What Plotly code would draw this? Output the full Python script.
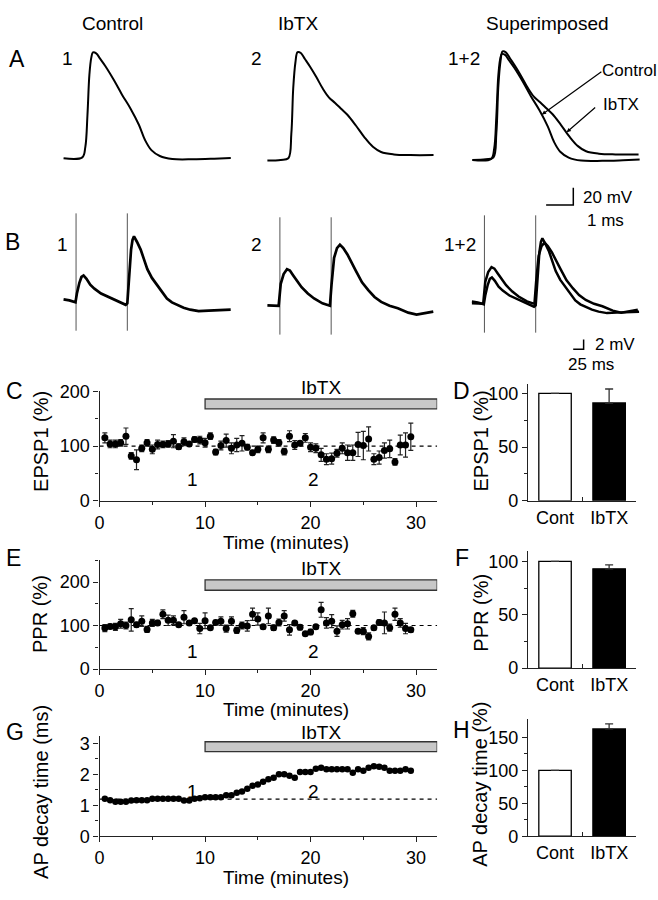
import plotly.graph_objects as go

W, H = 658, 900
FONT = "Liberation Sans, Arial, Helvetica, sans-serif"

# ---------------- data ----------------
# A: presynaptic action potentials (time ms, voltage mV re: baseline)
AP_CTRL_T = [0, 0.69, 0.80, 0.88, 0.95, 1.02, 1.08, 1.20, 1.35, 1.54, 1.85, 2.15, 2.46, 2.77, 3.00, 3.23, 3.54, 4.00, 4.77, 5.54, 6.15]
AP_CTRL_V = [0, 1.1, 13, 51, 97, 117, 123, 122, 115.5, 107, 91, 74, 58, 39, 21, 9.5, 2.7, -0.8, -1.1, -0.4, 0.4]
AP_IBTX_T = [0, 0.49, 0.77, 0.88, 0.95, 1.03, 1.11, 1.23, 1.38, 1.57, 1.80, 2.03, 2.26, 2.49, 2.72, 2.95, 3.26, 3.57, 3.88, 4.18, 4.65, 5.26, 6.11]
AP_IBTX_V = [0, 0.8, 2.7, 31, 84, 114, 126, 125, 118, 109, 97, 84, 73.5, 67, 60, 53, 40.5, 27, 16, 10, 7.2, 6.4, 6.4]

# B: paired EPSPs (time ms, voltage mV re: baseline)
EPSP_CTRL_T = [0, 14, 28.6, 32, 38, 43, 48, 55, 64, 74, 90, 114, 133, 149, 153, 157, 162, 165.5, 169, 176, 185, 193, 201,
               212, 224.5, 236, 248, 260, 272, 288, 304, 324, 348, 371, 401]
EPSP_CTRL_V = [0.4, 0.2, -0.2, 1.6, 3.8, 5.0, 5.3, 4.6, 3.4, 2.6, 1.6, 0.6, -0.2, -0.7, -0.4, 5.6, 10.6, 12.6, 13.3, 12.2, 10.6,
               8.6, 6.6, 4.8, 3.3, 1.8, 0.6, -0.2, -0.7, -1.3, -1.7, -2.0, -1.9, -1.8, -1.7]
EPSP_IBTX_T = [0, 17, 27, 32, 39, 47, 54, 62, 72, 82, 97, 112, 132, 150, 154, 160, 167, 174, 182, 192, 212, 227, 242,
               257, 273, 293, 313, 338, 358, 378, 398]
EPSP_IBTX_V = [0, -0.1, -0.1, 4.4, 6.4, 7.4, 7.1, 6.1, 4.9, 3.7, 2.4, 1.4, 0.4, -0.1, 4.4, 9.7, 11.7, 12.4, 11.7, 10.4, 7.1,
               4.7, 3.1, 1.7, 0.7, -0.1, -0.6, -1.5, -1.9, -1.6, -1.3]
STIM_T = [30, 153]
STIM_V = [-6, 18]

# scale bars
SCALE_A = (1, 20)    # ms, mV
SCALE_B = (25, 2)    # ms, mV

# C, E, G: time courses
TIME_MIN = [0.5, 1.0, 1.5, 2.0, 2.5, 3.0, 3.5, 4.0, 4.5, 5.0, 5.5, 6.0, 6.5, 7.0, 7.5, 8.0, 8.5, 9.0, 9.5, 10.0,
            10.5, 11.0, 11.5, 12.0, 12.5, 13.0, 13.5, 14.0, 14.5, 15.0, 15.5, 16.0, 16.5, 17.0, 17.5, 18.0, 18.5, 19.0,
            19.5, 20.0, 20.5, 21.0, 21.5, 22.0, 22.5, 23.0, 23.5, 24.0, 24.5, 25.0, 25.5, 26.0, 26.5, 27.0, 27.5,
            28.0, 28.5, 29.0, 29.5]
EPSP1 = [115, 104, 104, 106, 118, 82, 75, 96, 106, 94, 103, 103, 104, 109, 99, 108, 104, 112, 111, 106,
         118, 89, 101, 110, 96, 102, 105, 98, 88, 94, 115, 94, 111, 106, 90, 118, 102, 105, 115, 98,
         96, 84, 76, 77, 87, 96, 88, 88, 103, 101, 113, 76, 79, 92, 95, 71, 102, 102, 117]
EPSP1_ERR = [9, 7, 7, 6, 15, 6, 18, 6, 6, 8, 8, 6, 6, 12, 5, 7, 3, 5, 7, 8,
             6, 5, 8, 12, 10, 12, 14, 5, 4, 6, 9, 6, 6, 6, 6, 10, 8, 4, 8, 8,
             8, 12, 10, 10, 7, 10, 14, 14, 22, 26, 22, 10, 12, 14, 16, 6, 18, 22, 25]
PPR = [94, 98, 97, 104, 100, 113, 102, 110, 91, 106, 106, 126, 112, 112, 102, 119, 106, 111, 93, 111,
       95, 107, 110, 93, 110, 89, 100, 99, 126, 115, 97, 122, 95, 107, 122, 90, 106, 96, 81, 85,
       97, 136, 106, 110, 87, 102, 104, 127, 87, 87, 75, 95, 107, 106, 95, 126, 106, 93, 90]
PPR_ERR = [8, 5, 8, 10, 8, 26, 5, 12, 7, 8, 6, 10, 12, 10, 4, 15, 4, 5, 12, 18,
           4, 5, 10, 8, 10, 7, 8, 12, 14, 14, 5, 18, 6, 8, 12, 12, 4, 6, 4, 6,
           4, 17, 12, 15, 12, 10, 12, 8, 4, 8, 8, 5, 6, 25, 8, 14, 10, 12, 5]
AP_DECAY = [1.21, 1.16, 1.11, 1.11, 1.11, 1.15, 1.16, 1.16, 1.16, 1.21, 1.21, 1.21, 1.21, 1.21, 1.21, 1.15, 1.15,
            1.21, 1.23, 1.26, 1.26, 1.26, 1.26, 1.32, 1.32, 1.40, 1.44, 1.53, 1.63, 1.67, 1.76, 1.84, 1.89, 2.00,
            2.00, 1.95, 1.89, 2.07, 2.07, 2.07, 2.18, 2.21, 2.16, 2.16, 2.16, 2.16, 2.16, 2.05, 2.16, 2.11, 2.21,
            2.26, 2.24, 2.21, 2.11, 2.11, 2.11, 2.16, 2.11]
EPSP1_BASE = 100
PPR_BASE = 100
AP_DECAY_BASE = 1.2
IBTX_ON = [10, 32]

# D, F, H: summary bars
BAR_CATS = ["Cont", "IbTX"]
EPSP1_BAR = [100, 91]
EPSP1_BAR_ERR = [0, 13]
PPR_BAR = [100, 93]
PPR_BAR_ERR = [0, 3.7]
APD_BAR = [100, 163]
APD_BAR_ERR = [0, 7.5]

# ---------------- helpers ----------------
def aid(n):
    return "" if n == 1 else str(n)


def px(x):
    return x / W


def py(y):
    return 1 - y / H


layout = dict(width=W, height=H, margin=dict(l=0, r=0, t=0, b=0), paper_bgcolor="white",
              plot_bgcolor="rgba(0,0,0,0)", showlegend=False,
              font=dict(family=FONT, color="black", size=18))
shapes, annotations, traces = [], [], []


def set_axes(n, xdom, ydom, xr, yr, xkw=None, ykw=None):
    xa = dict(domain=[px(xdom[0]), px(xdom[1])], range=xr, anchor="y" + aid(n), fixedrange=True)
    ya = dict(domain=[py(ydom[1]), py(ydom[0])], range=yr, anchor="x" + aid(n), fixedrange=True)
    xa.update(xkw if xkw is not None else dict(visible=False))
    ya.update(ykw if ykw is not None else dict(visible=False))
    layout["xaxis" + aid(n)] = xa
    layout["yaxis" + aid(n)] = ya


def trace_panel(n, xdom, ydom, origin, scale):
    ox, oy = origin
    sx, sy = scale
    xr = [(xdom[0] - ox) / sx, (xdom[1] - ox) / sx]
    yr = [(oy - ydom[1]) / sy, (oy - ydom[0]) / sy]
    set_axes(n, xdom, ydom, xr, yr)


def line(n, x, y, width=2.0, color="black", shape="linear", dash=None):
    traces.append(go.Scatter(x=x, y=y, mode="lines", xaxis="x" + aid(n), yaxis="y" + aid(n),
                             line=dict(color=color, width=width, shape=shape, dash=dash),
                             hoverinfo="skip", cliponaxis=False))


def text(x, y, s, size=19, **kw):
    d = dict(x=px(x), y=py(y), xref="paper", yref="paper", text=s, showarrow=False, borderpad=0,
             font=dict(size=size, family=FONT, color="black"), xanchor="center", yanchor="middle")
    d.update(kw)
    annotations.append(d)


AX = dict(showline=True, linecolor="#222", linewidth=1.3, ticks="outside", ticklen=5, tickwidth=1.3,
          tickcolor="#222", showgrid=False, zeroline=False,
          tickfont=dict(size=18, family=FONT, color="black"))


def minor(vals, ticks="outside", ln=3):
    return dict(tickvals=vals, ticks=ticks, ticklen=ln, tickwidth=1.1, tickcolor="#222", showgrid=False)


# ---------------- A: action potentials ----------------
SA = (27.4, 0.88)  # px per ms, px per mV
trace_panel(1, (50, 240), (30, 230), (59, 151.7), SA)
trace_panel(2, (255, 445), (30, 230), (264.4, 154.0), SA)
trace_panel(3, (460, 652), (30, 230), (471.0, 153.3), SA)
line(1, AP_CTRL_T, AP_CTRL_V, 2.0, shape="spline")
line(2, AP_IBTX_T, AP_IBTX_V, 2.0, shape="spline")
line(3, AP_IBTX_T, AP_IBTX_V, 2.0, shape="spline")
line(3, AP_CTRL_T, AP_CTRL_V, 2.0, shape="spline")
# scale bar A (corner at bottom-right)
ca_t, ca_v = 3.71, -52.3
line(3, [ca_t - SCALE_A[0], ca_t, ca_t], [ca_v, ca_v, ca_v + SCALE_A[1]], 1.5)

# ---------------- B: EPSPs ----------------
SB = (0.42, 5.0)
trace_panel(4, (50, 240), (205, 372), (59, 298), SB)
trace_panel(5, (255, 445), (205, 372), (264.4, 302), SB)
trace_panel(6, (460, 652), (205, 372), (470.5, 300), SB)
for n in (4, 5, 6):
    for st in STIM_T:
        line(n, [st, st], STIM_V, 1.0, color="#555")
line(4, EPSP_CTRL_T, EPSP_CTRL_V, 2.7)
line(5, EPSP_IBTX_T, EPSP_IBTX_V, 2.7)
line(6, EPSP_CTRL_T, EPSP_CTRL_V, 2.5)
line(6, EPSP_IBTX_T, EPSP_IBTX_V, 2.5)
cb_t, cb_v = 268, -9.4
line(6, [cb_t - SCALE_B[0], cb_t, cb_t], [cb_v, cb_v, cb_v + SCALE_B[1]], 1.5)

# ---------------- C / E / G time courses ----------------
XDOM_T = (95.3, 435.5)
xt = dict(AX, tickvals=[0, 10, 20, 30], minor=minor([5, 15, 25]))


def time_panel(n, ydom, yr, yvals, yminor, ys, err, base, bar_y, lab_y, msize=7, lab_shift=0):
    set_axes(n, XDOM_T, ydom, [0, 32], yr, dict(xt),
             dict(AX, tickvals=yvals, minor=minor(yminor)))
    line(n, [0, 32], [base, base], 1.2, dash="4px,4px")
    sc = dict(x=TIME_MIN, y=ys, mode="markers", xaxis="x" + aid(n), yaxis="y" + aid(n),
              marker=dict(color="black", size=msize), hoverinfo="skip", cliponaxis=False)
    if err is not None:
        sc["error_y"] = dict(type="data", array=err, color="#222", thickness=1.2, width=2.5)
    traces.append(go.Scatter(**sc))
    shapes.append(dict(type="rect", xref="x" + aid(n), yref="y" + aid(n), x0=IBTX_ON[0], x1=IBTX_ON[1],
                       y0=bar_y[0], y1=bar_y[1], fillcolor="#c8c8c8", line=dict(color="#333", width=1.3)))
    annotations.append(dict(x=sum(IBTX_ON) / 2, y=bar_y[1], xref="x" + aid(n), yref="y" + aid(n),
                            text="IbTX", showarrow=False, yanchor="bottom", yshift=lab_shift, borderpad=0,
                            font=dict(size=19, family=FONT, color="black")))
    for lx, lab in zip((8.84, 20.3), ("1", "2")):
        annotations.append(dict(x=lx, y=lab_y, xref="x" + aid(n), yref="y" + aid(n), text=lab,
                                showarrow=False, borderpad=0,
                                font=dict(size=19, family=FONT, color="black")))


time_panel(7, (390, 502), [0, 200], [0, 100, 200], [50, 150], EPSP1, EPSP1_ERR, EPSP1_BASE, (168, 186), 39)
time_panel(9, (562.75, 674), [0, 250], [0, 100, 200], [50, 150, 250], PPR, PPR_ERR, PPR_BASE, (181, 205), 41)
time_panel(11, (743, 845), [0, 3.22], [0, 1, 2, 3], [0.5, 1.5, 2.5], AP_DECAY, None, AP_DECAY_BASE,
           (2.73, 3.05), 1.45, msize=6.5, lab_shift=-2)

# ---------------- D / F / H bars ----------------
XDOM_B = (527, 636)


def bar_panel(n, ydom, yr, yvals, yminor, vals, errs):
    set_axes(n, XDOM_B, ydom, [-0.5, 1.5], yr,
             dict(AX, ticks="", tickvals=[0, 1], ticktext=BAR_CATS, minor=minor([0.5], "inside", 4)),
             dict(AX, tickvals=yvals, minor=minor(yminor)))
    traces.append(go.Bar(x=[0, 1], y=vals, width=0.6, xaxis="x" + aid(n), yaxis="y" + aid(n),
                         marker=dict(color=["white", "black"], line=dict(color="black", width=1.3)),
                         error_y=dict(type="data", array=errs, arrayminus=[0, 0], symmetric=False,
                                      color="#333", thickness=1.3, width=4),
                         hoverinfo="skip", cliponaxis=False))


bar_panel(8, (382, 502), [0, 109.1], [0, 50, 100], [25, 75], EPSP1_BAR, EPSP1_BAR_ERR)
bar_panel(10, (553, 673), [0, 110], [0, 50, 100], [25, 75], PPR_BAR, PPR_BAR_ERR)
bar_panel(12, (725, 845), [0, 178.2], [0, 50, 100, 150], [25, 75, 125], APD_BAR, APD_BAR_ERR)

# ---------------- texts ----------------
text(108.6, 14, "Control", 19)
text(295, 14, "IbTX", 19)
text(547, 14, "Superimposed", 19)
for lx, ly, s in [(12.5, 50, "A"), (8, 237, "B"), (10, 390, "C"), (460, 390, "D"), (9, 560, "E"),
                  (460, 560, "F"), (10, 738, "G"), (460, 736, "H")]:
    text(lx, ly, s, 23)
for lx, ly, s in [(63, 50, "1"), (253, 50, "2"), (463, 50, "1+2"), (57.5, 240, "1"), (253, 240, "2"),
                  (458, 240, "1+2")]:
    text(lx, ly, s, 19)
# scale bar labels
text(581, 191.7, "20 mV", 17, xanchor="left")
text(605, 215, "1 ms", 17)
text(594, 342, "2 mV", 17, xanchor="left")
text(590, 363, "25 ms", 17)
# superimposed labels and pointers
text(629, 62, "Control", 17)
text(621, 97, "IbTX", 17)
for hx, hy, tx, ty in [(541, 107, 602, 63), (566, 125, 596, 99)]:
    annotations.append(dict(x=px(hx), y=py(hy), xref="paper", yref="paper", text="", showarrow=True,
                            ax=tx - hx, ay=ty - hy, arrowhead=2, arrowsize=0.7, arrowwidth=1.2,
                            arrowcolor="black", standoff=0, startstandoff=0))
# axis titles
for lx, ly, s in [(36, 441, "EPSP1 (%)"), (36, 618, "PPR (%)"), (37, 800, "AP decay time (ms)"),
                  (480, 441, "EPSP1 (%)"), (480, 616, "PPR (%)"), (479, 792, "AP decay time (%)")]:
    text(lx, ly, s, 20, textangle=-90)
for ly in (545, 715.5, 887):
    text(283, ly, "Time (minutes)", 19)

layout["shapes"] = shapes
layout["annotations"] = annotations
fig = go.Figure(data=traces, layout=layout)
fig.write_html("out.html", config=dict(displayModeBar=False),
               post_script="document.body.style.margin='0';document.body.style.overflow='hidden';")
